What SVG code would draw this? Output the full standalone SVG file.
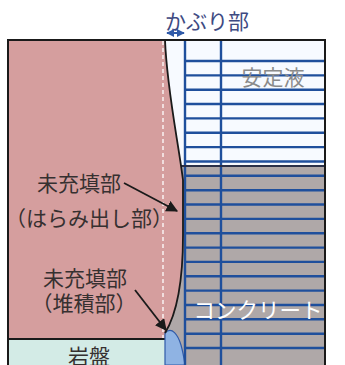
<svg xmlns="http://www.w3.org/2000/svg" width="345" height="365" viewBox="0 0 345 365">
  <defs>
    <style>
      .lbl { font-family: "Noto Sans CJK JP", "Noto Sans", sans-serif; font-size: 21px; fill: #363030; }
      .rebar { stroke: #1f4f9c; stroke-width: 2.4; fill: none; }
      .lead { stroke: #1a1a1a; stroke-width: 1.8; fill: none; marker-end: url(#tip); }
    </style>
    <marker id="tip" viewBox="0 0 10 10" refX="9" refY="5" markerWidth="6.5" markerHeight="6.5" orient="auto" markerUnits="strokeWidth">
      <path d="M0,0 L10,5 L0,10 Z" fill="#1a1a1a"/>
    </marker>
    <marker id="dbl" viewBox="0 0 10 10" refX="9" refY="5" markerWidth="4" markerHeight="4" orient="auto-start-reverse" markerUnits="strokeWidth">
      <path d="M0,0 L10,5 L0,10 Z" fill="#2f5aa8"/>
    </marker>
  </defs>

  <rect width="345" height="365" fill="#ffffff"/>

  <!-- excavated trench: stabilising fluid above, concrete below -->
  <g id="trench">
    <rect x="165" y="40" width="160" height="126" fill="#f7faff"/>
    <rect x="165" y="166" width="160" height="199" fill="#afa8a8"/>
  </g>

  <!-- surrounding ground, bounded by the bulging wall face -->
  <g id="ground">
    <path d="M8,40 L165,40 C167,90 178,140 183,180 L183,235 C183,275 178,312 165,333 L165,339 L8,339 Z" fill="#d59e9e"/>
    <line x1="163" y1="41" x2="163" y2="339" stroke="#ffffff" stroke-width="1.3" stroke-dasharray="4,3"/>
  </g>

  <!-- bedrock layer -->
  <g id="bedrock">
    <rect x="8" y="339" width="157" height="26" fill="#d3ebe6"/>
    <line x1="8" y1="339" x2="166" y2="339" stroke="#1a1a1a" stroke-width="1.8"/>
    <text class="lbl" x="89" y="364" text-anchor="middle">岩盤</text>
  </g>

  <!-- sediment deposit at the base -->
  <g id="deposit">
    <path d="M165,333 C172,326 178,335 181,345 C183,352 184,358 185,365 L165,365 Z" fill="#8fb3e3" stroke="#2f5aa8" stroke-width="1.2"/>
  </g>

  <!-- reinforcement cage -->
  <g id="rebar-cage">
    <line class="rebar" x1="185" y1="40" x2="185" y2="365"/>
    <line class="rebar" x1="221" y1="40" x2="221" y2="365"/>
    <g class="rebar">
      <line x1="185" y1="61" x2="324" y2="61"/>
      <line x1="185" y1="75.4" x2="324" y2="75.4"/>
      <line x1="185" y1="89.7" x2="324" y2="89.7"/>
      <line x1="185" y1="104" x2="324" y2="104"/>
      <line x1="185" y1="118.4" x2="324" y2="118.4"/>
      <line x1="185" y1="132.8" x2="324" y2="132.8"/>
      <line x1="185" y1="147.1" x2="324" y2="147.1"/>
      <line x1="185" y1="161.5" x2="324" y2="161.5"/>
      <line x1="185" y1="175.8" x2="324" y2="175.8"/>
      <line x1="185" y1="190.2" x2="324" y2="190.2"/>
      <line x1="185" y1="204.5" x2="324" y2="204.5"/>
      <line x1="185" y1="218.9" x2="324" y2="218.9"/>
      <line x1="185" y1="233.2" x2="324" y2="233.2"/>
      <line x1="185" y1="247.6" x2="324" y2="247.6"/>
      <line x1="185" y1="261.9" x2="324" y2="261.9"/>
      <line x1="185" y1="276.3" x2="324" y2="276.3"/>
      <line x1="185" y1="290.6" x2="324" y2="290.6"/>
      <line x1="185" y1="305" x2="324" y2="305"/>
      <line x1="185" y1="319.3" x2="324" y2="319.3"/>
      <line x1="185" y1="333.7" x2="324" y2="333.7"/>
      <line x1="185" y1="348" x2="324" y2="348"/>
    </g>
    <!-- concrete top surface -->
    <line x1="181" y1="166" x2="324" y2="166" stroke="#2a3048" stroke-width="2"/>
  </g>

  <!-- wall face and outer frame -->
  <g id="frame">
    <path d="M165,40 C167,90 178,140 183,180 L183,235 C183,275 178,312 165,333" fill="none" stroke="#1a1a1a" stroke-width="1.8"/>
    <polyline points="8,365 8,40 325,40 325,365" fill="none" stroke="#1a1a1a" stroke-width="2"/>
  </g>

  <!-- region labels -->
  <g id="labels">
    <text x="273" y="85" text-anchor="middle" font-family="'Noto Sans CJK JP', 'Noto Sans', sans-serif" font-size="21" fill="#8a8a8a">安定液</text>
    <text x="258" y="318" text-anchor="middle" font-family="'Noto Sans CJK JP', 'Noto Sans', sans-serif" font-size="21.5" fill="#ffffff">コンクリート</text>
  </g>

  <!-- cover thickness -->
  <g id="cover">
    <text x="165" y="29" font-family="'Noto Sans CJK JP', 'Noto Sans', sans-serif" font-size="21" fill="#3e4a82">かぶり部</text>
    <line x1="167" y1="33" x2="184" y2="33" stroke="#2f5aa8" stroke-width="2" marker-start="url(#dbl)" marker-end="url(#dbl)"/>
  </g>

  <!-- bulge void -->
  <g id="void-bulge">
    <text class="lbl" x="79" y="191" text-anchor="middle" font-size="22">未充填部</text>
    <text class="lbl" x="89" y="226" text-anchor="middle" font-size="20">（はらみ出し部）</text>
  </g>

  <!-- sediment void -->
  <g id="void-sediment">
    <text class="lbl" x="85" y="286" text-anchor="middle" font-size="20.5">未充填部</text>
    <text class="lbl" x="84" y="311" text-anchor="middle" font-size="20.5">（堆積部）</text>
  </g>

  <g id="connectors">
    <line class="lead" x1="124" y1="183" x2="177" y2="211"/>
    <line class="lead" x1="135" y1="290" x2="166" y2="330"/>
  </g>
</svg>
